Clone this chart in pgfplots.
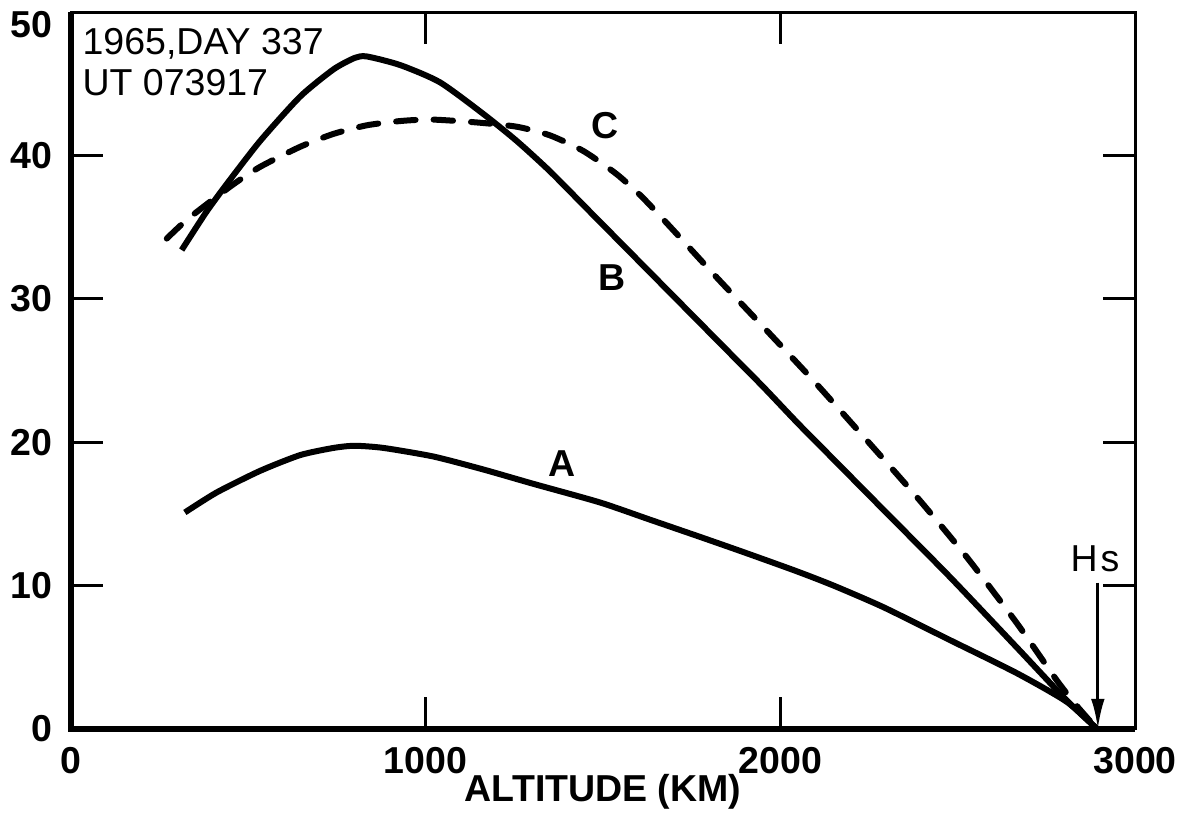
\documentclass[border=0pt]{standalone}
\usepackage{fontspec}
\setmainfont{Liberation Sans}
\usepackage{pgfplots}
\usepackage{pgfplotstable}
\pgfplotsset{compat=1.18}
\usetikzlibrary{arrows.meta}

\pgfplotstableread{
x y
321 15.1
411 16.5
533 18.0
646 19.1
740 19.6
800 19.75
881 19.6
1022 19.0
1162 18.1
1303 17.1
1491 15.8
1632 14.6
1773 13.4
1900 12.3
2046 11.0
2150 10.0
2290 8.5
2478 6.2
2666 3.9
2807 1.9
2893 0
}\dataA

\pgfplotstableread{
x y
312 33.4
380 36.0
439 38.0
533 41.0
646 44.1
740 46.0
800 46.8
834 46.9
928 46.3
1040 45.1
1162 42.9
1257 41.0
1350 38.9
1450 36.4
1550 33.9
1650 31.4
1750 28.9
1850 26.4
1950 23.9
2050 21.3
2150 18.8
2290 15.3
2478 10.6
2666 5.7
2807 2.0
2893 0
}\dataB

\pgfplotstableread{
x y
270 34.2
331 35.6
453 37.9
533 39.2
646 40.6
740 41.5
834 42.1
930 42.4
1016 42.5
1143 42.3
1257 42.0
1350 41.4
1445 40.3
1538 38.7
1610 37.1
1690 35.0
1820 31.5
1961 27.8
2093 24.3
2234 20.4
2384 16.2
2525 12.0
2666 7.4
2779 3.4
2836 1.6
2893 0
}\dataC

\begin{document}
\begin{tikzpicture}
\useasboundingbox (-23.67pt,-36pt) rectangle (370pt,243pt);
\begin{axis}[
  at={(0,0)}, anchor=south west,
  scale only axis, width=354.7pt, height=239pt,
  xmin=0, xmax=3000, ymin=0, ymax=50,
  xtick={0,1000,2000,3000}, ytick={0,10,20,30,40},
  extra y ticks={50},
  extra y tick style={yticklabel style={yshift=-4.3pt}},
  tick align=inside, major tick length=10.7pt,
  tick style={line width=1pt, black},
  axis line style={line width=1pt},
  /pgf/number format/assume math mode=true,
  /pgf/number format/1000 sep={},
  ticklabel style={font=\fontsize{12.5}{15}\selectfont\bfseries},
  xticklabel style={inner sep=0pt, yshift=-6pt},
  yticklabel style={inner sep=0pt, xshift=-6pt},
  xlabel={ALTITUDE (KM)},
  xlabel style={at={(axis description cs:0.5,0)}, anchor=base, yshift=-24.3pt,
    font=\fontsize{12.5}{15}\selectfont\bfseries},
  clip=false,
]
\draw[line width=1.8pt] (rel axis cs:0,1) -- (rel axis cs:0,0) -- (rel axis cs:1,0);
\addplot[black, line width=2pt, smooth, tension=0.4] table {\dataA};
\addplot[black, line width=2pt, smooth, tension=0.4] table {\dataB};
\addplot[black, line width=2pt, smooth, tension=0.4, line cap=round,
  dash pattern=on 6.5pt off 6pt] table {\dataC};
\node[anchor=north west, inner sep=0pt, align=left,
  font=\fontsize{12.5}{13.7}\selectfont] at (axis cs:31,48.9) {1965,DAY 337\\UT 073917};
\node[font=\fontsize{12.5}{15}\selectfont\bfseries] at (axis cs:1505,42.1) {C};
\node[font=\fontsize{12.5}{15}\selectfont\bfseries] at (axis cs:1525,31.5) {B};
\node[font=\fontsize{12.5}{15}\selectfont\bfseries] at (axis cs:1384,18.5) {A};
\node[font=\fontsize{12.5}{15}\selectfont] at (axis cs:2887,11.9) {H\kern1pt s};
\draw[line width=1pt, -{Latex[length=10pt,width=4.5pt]}] (axis cs:2895,10.2) -- (axis cs:2895,0);
\end{axis}
\end{tikzpicture}
\end{document}
